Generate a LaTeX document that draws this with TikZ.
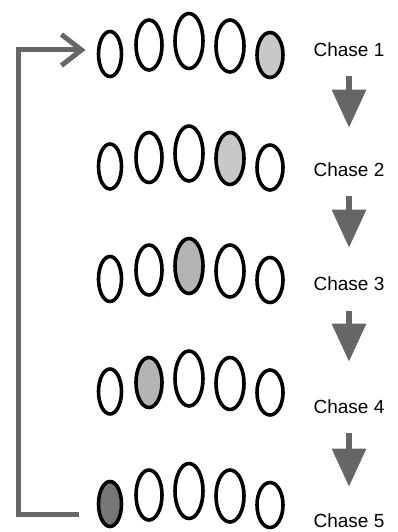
\documentclass[tikz,border=0pt]{standalone}
\usepackage{fontspec}
\setmainfont{Liberation Sans}
\usepackage{tikz}
\usetikzlibrary{arrows.meta, shapes.geometric}

\definecolor{arrowgray}{HTML}{666666}
\definecolor{lightshade}{HTML}{C8C8C8}
\definecolor{midshade}{HTML}{B4B4B4}
\definecolor{darkshade}{HTML}{777777}

\begin{document}
\begin{tikzpicture}[
          x=1pt, y=-1pt,
          bead/.style={ellipse, draw=black, line width=3.6pt, fill=white, inner sep=0pt, outer sep=0pt},
          chaselabel/.style={font=\fontsize{19}{23}\selectfont, anchor=base},
          downarrow/.style={draw=arrowgray, line width=6pt, -{Triangle[length=38pt, width=33pt]}},
          loopline/.style={draw=arrowgray, line width=5pt, -{Straight Barb[length=20pt, width=31pt]}},
          % shaded bead of each row
          hl-1-5/.style={fill=lightshade},
          hl-2-4/.style={fill=lightshade},
          hl-3-3/.style={fill=midshade},
          hl-4-2/.style={fill=midshade},
          hl-5-1/.style={fill=darkshade}
        ]
          \useasboundingbox (0,0) rectangle (398,532);

          % Rows of beads
          \foreach \r/\c in {1/41, 2/153.5, 3/266, 4/378.5, 5/491} {
            \foreach \i/\bx/\dy/\w/\h in {1/110/13/23/45, 2/149/4/26/50, 3/189/0/28/55, 4/230/5/28/52, 5/270/14/26/45}
              \node[bead, minimum width=\w pt, minimum height=\h pt, hl-\r-\i/.try] (r\r e\i) at (\bx, \c+\dy) {};
          }

          % Labels
          \node[chaselabel] (c1) at (349, 57) {Chase 1};
          \node[chaselabel] (c2) at (349, 176) {Chase 2};
          \node[chaselabel] (c3) at (349, 290) {Chase 3};
          \node[chaselabel] (c4) at (349, 413) {Chase 4};
          \node[chaselabel] (c5) at (349, 527) {Chase 5};

          % Downward arrows
          \draw[downarrow, shorten <=15pt, shorten >=31pt] (c1) -- (c2);
          \draw[downarrow, shorten <=16pt, shorten >=25pt] (c2) -- (c3);
          \draw[downarrow, shorten <=17pt, shorten >=34pt] (c3) -- (c4);
          \draw[downarrow, shorten <=16pt, shorten >=23pt] (c4) -- (c5);

          % Return loop
          \coordinate (loopx) at (18.5, 280);
          \draw[loopline] ([xshift=-20pt, yshift=-10pt]r5e1.west) -| (loopx) |- ([xshift=-13pt, yshift=4pt]r1e1.west);
        \end{tikzpicture}
\end{document}
